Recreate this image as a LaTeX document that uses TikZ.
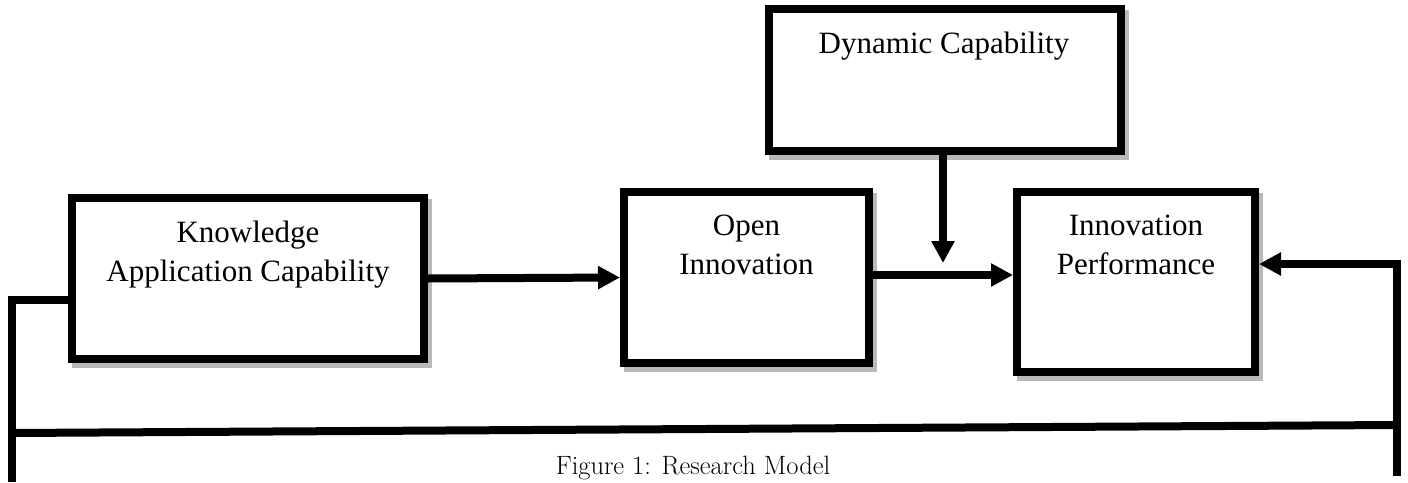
\documentclass[tikz,border=0pt]{standalone}
\usepackage{fontspec}
\setmainfont{Liberation Serif}
\newfontfamily\capfont{Latin Modern Roman}
\usetikzlibrary{arrows.meta}
\begin{document}
\begin{tikzpicture}[x=1pt,y=-1pt,
  box/.style={rectangle, draw=black, line width=8pt, fill=white, inner sep=0pt,
    preaction={draw=gray!55, line width=8pt, transform canvas={shift={(4pt,-5pt)}}}},
  lbl/.style={font=\fontsize{31}{39}\selectfont, align=center, inner sep=0pt, anchor=north},
  conn/.style={line width=8pt},
  arr/.style={conn, -{Triangle[length=22pt,width=22pt]}}]
\useasboundingbox (0,0) rectangle (1408,482);

% boxes
\node[box, minimum width=352pt, minimum height=161pt] (ka) at (248,278.5) {};
\node[lbl] (kat) at (248,221) {Knowledge\\Application Capability};

\node[box, minimum width=245pt, minimum height=171pt] (oi) at (746.5,277.5) {};
\node[lbl] (oit) at (746.5,215) {Open\\Innovation};

\node[box, minimum width=238pt, minimum height=180pt] (ip) at (1136,282) {};
\node[lbl] (ipt) at (1136,215) {Innovation\\Performance};

\node[box, minimum width=352pt, minimum height=142pt] (dc) at (945,80) {};
\node[lbl] (dct) at (944,32) {Dynamic Capability};

% helper coordinates
\coordinate (L1) at (12,300);
\coordinate (L2) at (12,482);
\coordinate (B1) at (12,433);
\coordinate (B2) at (1397,425);
\coordinate (R1) at (1397,264);
\coordinate (R2) at (1397,476);
\coordinate (J) at (943,275);
\coordinate (M) at (943,263);

% connectors
\draw[arr] (ka.east) -- (oi.west);
\draw[arr] (oi.east |- J) -- (ip.west |- J);
\draw[arr] (dc.south -| M) -- (M);
\draw[arr] (R2) -- (R1) -- (R1 -| ip.east);
\draw[conn] (ka.west |- L1) -- (L1) -- (L2);
\draw[conn] (B1) -- (B2);

% caption
\node[font=\capfont\fontsize{26.5}{30}\selectfont, anchor=base, inner sep=0pt] (cap) at (693,474) {Figure 1: Research Model};
\end{tikzpicture}
\end{document}
